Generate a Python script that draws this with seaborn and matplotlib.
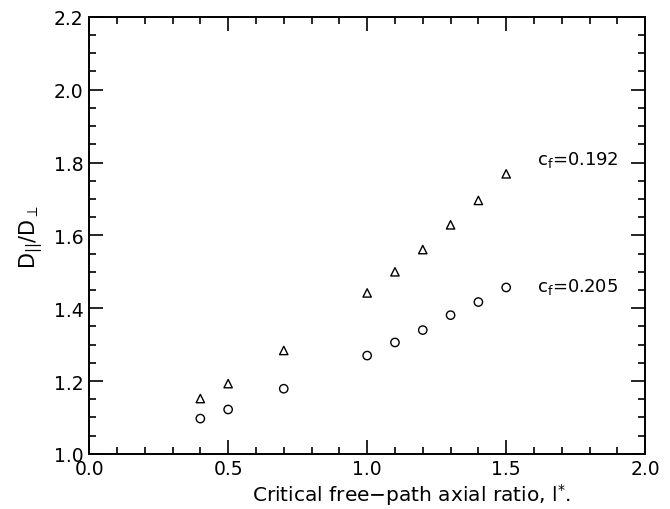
import matplotlib
matplotlib.use('Agg')
import matplotlib.pyplot as plt
import seaborn as sns
import pandas as pd
from matplotlib.ticker import MultipleLocator

# data
l_star = [0.4, 0.5, 0.7, 1.0, 1.1, 1.2, 1.3, 1.4, 1.5]
ratio_192 = [1.152, 1.193, 1.284, 1.442, 1.500, 1.561, 1.629, 1.696, 1.769]
ratio_205 = [1.097, 1.122, 1.179, 1.270, 1.306, 1.340, 1.381, 1.417, 1.457]
labels = ['c$_f$=0.192', 'c$_f$=0.205']

df = pd.DataFrame({'l': l_star * 2,
                   'ratio': ratio_192 + ratio_205,
                   'series': [labels[0]] * len(l_star) + [labels[1]] * len(l_star)})

sns.set_style('ticks')
plt.rcParams['font.family'] = ['DejaVu Sans']
plt.rcParams['text.color'] = 'black'
plt.rcParams['axes.labelcolor'] = 'black'
plt.rcParams['mathtext.fontset'] = 'custom'
plt.rcParams['mathtext.rm'] = 'DejaVu Sans'
plt.rcParams['mathtext.it'] = 'DejaVu Sans'

fig = plt.figure(figsize=(6.7, 5.1), dpi=100)
ax = fig.add_axes([0.133, 0.108, 0.830, 0.857])

sns.scatterplot(data=df, x='l', y='ratio', style='series',
                markers={labels[0]: '^', labels[1]: 'o'},
                facecolors='none', edgecolor='black', linewidth=1.0,
                s=36, legend=False, ax=ax)
# open markers
for coll in ax.collections:
    coll.set_facecolor('none')
    coll.set_edgecolor('black')

ax.set_xlim(0, 2.0)
ax.set_ylim(1.0, 2.2)
ax.xaxis.set_major_locator(MultipleLocator(0.5))
ax.xaxis.set_minor_locator(MultipleLocator(0.1))
ax.yaxis.set_major_locator(MultipleLocator(0.2))
ax.yaxis.set_minor_locator(MultipleLocator(0.05))
ax.xaxis.set_major_formatter(plt.FormatStrFormatter('%.1f'))
ax.yaxis.set_major_formatter(plt.FormatStrFormatter('%.1f'))
ax.tick_params(which='both', direction='in', top=True, right=True,
               labelsize=13.5, colors='black', width=1.2, pad=4)
ax.tick_params(axis='x', pad=4)
ax.tick_params(which='major', length=10)
ax.tick_params(which='minor', length=5)
for sp in ax.spines.values():
    sp.set_linewidth(1.4)
    sp.set_color('black')

ax.text(1.61, 1.81, labels[0], fontsize=13, va='center', color='black')
ax.text(1.61, 1.462, labels[1], fontsize=13, va='center', color='black')

ax.set_xlabel('Critical free$-$path axial ratio, l$^{*}$.', fontsize=14.5, labelpad=1)
ax.xaxis.set_label_coords(0.58, -0.062)
ax.set_ylabel(r'D$_{||}$/D$_{\perp}$', fontsize=15, labelpad=6)

fig.savefig('out.png', dpi=100)
